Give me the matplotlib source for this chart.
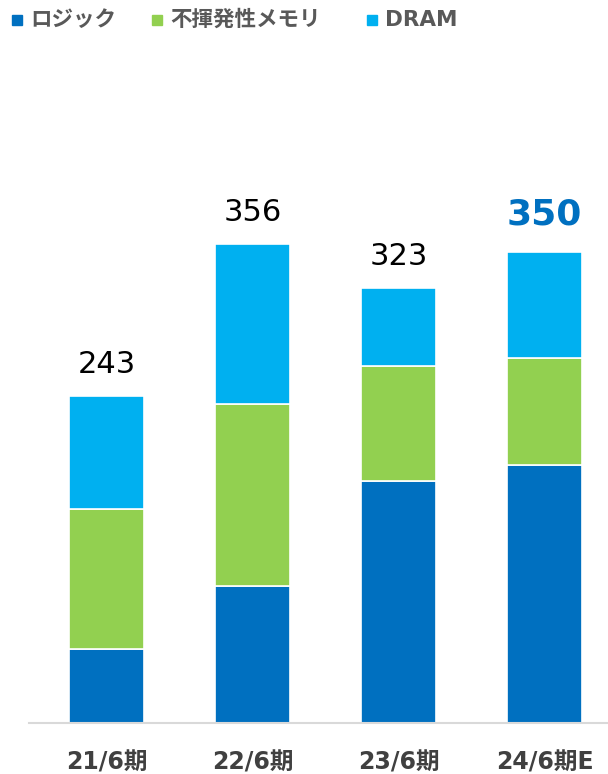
import matplotlib.pyplot as plt
from matplotlib.patches import Rectangle

plt.rcParams['font.family'] = ['DejaVu Sans', 'Noto Sans CJK JP']

periods = ['21/6期', '22/6期', '23/6期', '24/6期E']
logic = [55, 102, 180, 192]
nvm = [104, 135, 85, 79]
dram = [84, 119, 58, 79]
totals = [243, 356, 323, 350]

series_names = ['ロジック', '不揮発性メモリ', 'DRAM']
colors = ['#0070C0', '#92D050', '#00B0F0']

fig = plt.figure(figsize=(6.08, 7.74), dpi=100)
ax = fig.add_axes([29 / 608, 1 - 723 / 774, 1 - 29 / 608, 623 / 774])

x = list(range(len(periods)))
bottom = [0] * len(periods)
for vals, col in zip([logic, nvm, dram], colors):
    ax.bar(x, vals, width=0.514, bottom=bottom, color=col,
           edgecolor='white', linewidth=1.2)
    bottom = [b + v for b, v in zip(bottom, vals)]

# total labels above each stack; the forecast year is highlighted
for i, t in enumerate(totals):
    if i == len(totals) - 1:
        ax.annotate(str(t), (x[i], t), xytext=(0, 27), textcoords='offset points',
                    ha='center', va='center', fontsize=26, fontweight='bold',
                    color='#0070C0')
    else:
        ax.annotate(str(t), (x[i], t), xytext=(0, 23), textcoords='offset points',
                    ha='center', va='center', fontsize=22, color='black')

ax.set_xlim(-0.53, 3.435)
ax.set_ylim(0, 463)
for s in ['top', 'right', 'left']:
    ax.spines[s].set_visible(False)
ax.spines['bottom'].set_color('#D9D9D9')
ax.spines['bottom'].set_linewidth(1.5)
ax.set_yticks([])
ax.set_xticks(x)
ax.set_xticklabels(periods, fontsize=17, fontweight='bold', color='#404040')
ax.tick_params(axis='x', length=0, pad=20)

# legend across the top
legend_x = [12, 152, 367]
for lx, name, col in zip(legend_x, series_names, colors):
    fig.patches.append(Rectangle((lx / 608, 1 - 25 / 774), 10 / 608, 10 / 774,
                                 transform=fig.transFigure, color=col))
    fig.text((lx + 18) / 608, 1 - 20 / 774, name, fontsize=15.5, fontweight='bold',
             color='#595959', va='center', ha='left')

fig.savefig('out.png', dpi=100)
